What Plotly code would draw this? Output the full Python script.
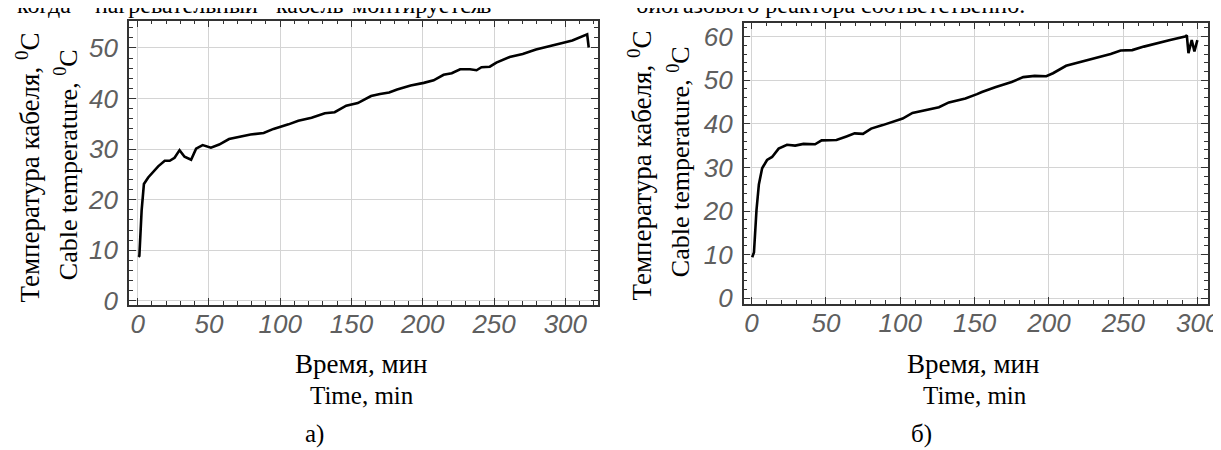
import plotly.graph_objects as go

W, H = 1221, 450

# ---- data: panel a) ----
time_a = [0.5, 1.2, 2.8, 4.4, 7.4, 10.9, 14.4, 19.0, 22.5, 25.9, 29.4, 32.9, 37.5, 41.0, 45.6,
          51.4, 57.2, 64.1, 71.0, 79.2, 88.4, 95.3, 105.8, 112.7, 122.0, 131.3, 138.2, 146.3,
          154.4, 163.7, 170.0, 176.4, 182.0, 191.5, 200.7, 207.6, 214.6, 220.3, 226.2, 233.1,
          237.7, 241.2, 247.0, 251.6, 260.9, 270.1, 279.4, 288.7, 297.9, 304.9, 311.8, 315.3, 316.4]
temp_a = [8.7, 8.9, 17.9, 23.1, 24.4, 25.6, 26.6, 27.7, 27.7, 28.3, 29.8, 28.5, 27.9, 30.1, 30.8,
          30.3, 30.9, 32.0, 32.4, 32.9, 33.2, 34.0, 34.9, 35.6, 36.2, 37.1, 37.3, 38.6,
          39.1, 40.5, 40.9, 41.2, 41.8, 42.6, 43.1, 43.6, 44.7, 45.0, 45.8, 45.8,
          45.6, 46.2, 46.3, 47.1, 48.2, 48.8, 49.7, 50.3, 51.0, 51.5, 52.2, 52.7, 50.1]

# ---- data: panel б) ----
time_b = [0.4, 1.6, 3.3, 4.9, 7.1, 10.4, 13.8, 18.2, 23.8, 29.3, 34.9, 42.7, 47.1, 57.1, 63.8,
          69.3, 74.9, 80.4, 88.2, 97.1, 101.6, 108.2, 117.1, 126.0, 132.7, 143.8, 151.6, 154.9,
          163.8, 174.9, 182.7, 190.4, 198.2, 202.7, 211.5, 221.5, 232.7, 241.5, 248.2, 256.0,
          263.8, 272.7, 281.5, 291.5, 292.7, 293.8, 296.0, 297.8, 299.8]
temp_b = [9.4, 10.5, 20.2, 26.1, 29.8, 31.7, 32.4, 34.3, 35.2, 35.0, 35.4, 35.3, 36.2, 36.3, 37.1,
          37.8, 37.7, 38.9, 39.7, 40.8, 41.2, 42.5, 43.2, 43.8, 44.9, 45.8, 46.8, 47.3,
          48.4, 49.6, 50.7, 51.0, 50.9, 51.6, 53.3, 54.2, 55.1, 56.0, 56.8, 56.9,
          57.7, 58.5, 59.2, 60.0, 60.3, 56.2, 59.2, 56.6, 59.2]

x_ticks_a = [0, 50, 100, 150, 200, 250, 300]
y_ticks_a = [0, 10, 20, 30, 40, 50]
x_ticks_b = [0, 50, 100, 150, 200, 250, 300]
y_ticks_b = [0, 10, 20, 30, 40, 50, 60]

y_title_ru = "Температура кабеля, <sup>0</sup>C"
y_title_en = "Cable temperature, <sup>0</sup>C"
x_title_ru = "Время, мин"
x_title_en = "Time, min"


def px(x):
    return x / W


def py(y):
    return 1 - y / H


fig = go.Figure()
fig.add_trace(go.Scatter(x=time_a, y=temp_a, mode="lines", line=dict(color="black", width=2.6),
                         xaxis="x", yaxis="y", showlegend=False))
fig.add_trace(go.Scatter(x=time_b, y=temp_b, mode="lines", line=dict(color="black", width=2.6),
                         xaxis="x2", yaxis="y2", showlegend=False))

tickfont = dict(family="Liberation Sans", size=26, color="#5f5f5f", style="italic")
common = dict(showline=True, linecolor="#333333", linewidth=1.5, mirror="allticks",
              ticks="inside", ticklen=7, tickwidth=1, tickcolor="#333333",
              showgrid=True, gridcolor="#d4d4d4", gridwidth=1, zeroline=False,
              tickfont=tickfont, ticklabeloverflow="allow")
minor_x = dict(dtick=10, ticks="inside", ticklen=4, tickcolor="#333333")
minor_y = dict(dtick=2, ticks="inside", ticklen=4, tickcolor="#333333")

fig.update_layout(
    width=W, height=H, margin=dict(l=0, r=0, t=0, b=0),
    paper_bgcolor="white", plot_bgcolor="white",
    xaxis=dict(domain=[px(122), px(596)], range=[-6.2, 323], anchor="y", ticklabelstandoff=-5,
               tickvals=x_ticks_a, minor=minor_x, **common),
    yaxis=dict(domain=[py(304), py(12)], range=[-0.8, 55.4], anchor="x", ticklabelstandoff=4,
               tickvals=y_ticks_a, minor=minor_y, **common),
    xaxis2=dict(domain=[px(743), px(1212)], range=[-5.3, 307], anchor="y2", ticklabelstandoff=-5,
                tickvals=x_ticks_b, minor=minor_x, **common),
    yaxis2=dict(domain=[py(303), py(14)], range=[-1.3, 63.2], anchor="x2", ticklabelstandoff=4,
                tickvals=y_ticks_b, minor=minor_y, **common),
)

ann = []


def add(text, x, y, xanchor="center", yanchor="middle", angle=0, size=25):
    ann.append(dict(text=text, x=px(x), y=py(y), xref="paper", yref="paper",
                    xanchor=xanchor, yanchor=yanchor, textangle=angle, showarrow=False,
                    font=dict(family="Liberation Serif", size=size, color="black")))


# y-axis titles
add(y_title_ru, 20, 163, angle=-90, size=27)
add(y_title_en, 59, 160, angle=-90, size=26)
add(y_title_ru, 638, 161, angle=-90, size=27)
add(y_title_en, 678, 157, angle=-90, size=26)
# x-axis titles and captions
add(x_title_ru, 357, 365, size=27)
add(x_title_en, 358, 397, size=25)
add("а)", 310, 437, size=25)
add(x_title_ru, 975, 365, size=27)
add(x_title_en, 977, 397, size=25)
add("б)", 923, 437, size=25)
# clipped text line at the top
add("когда", 36, 11, yanchor="bottom", size=24)
add("нагревательный", 170, 11, yanchor="bottom", size=24)
add("кабель", 304, 11, yanchor="bottom", size=24)
add("монтируется", 413, 11, yanchor="bottom", size=24)
add("в", 482, 11, yanchor="bottom", size=24)
add("биогазового реактора соответственно.", 632, 11, xanchor="left", yanchor="bottom", size=24)

fig.update_layout(annotations=ann)
fig.write_html("out.html")
